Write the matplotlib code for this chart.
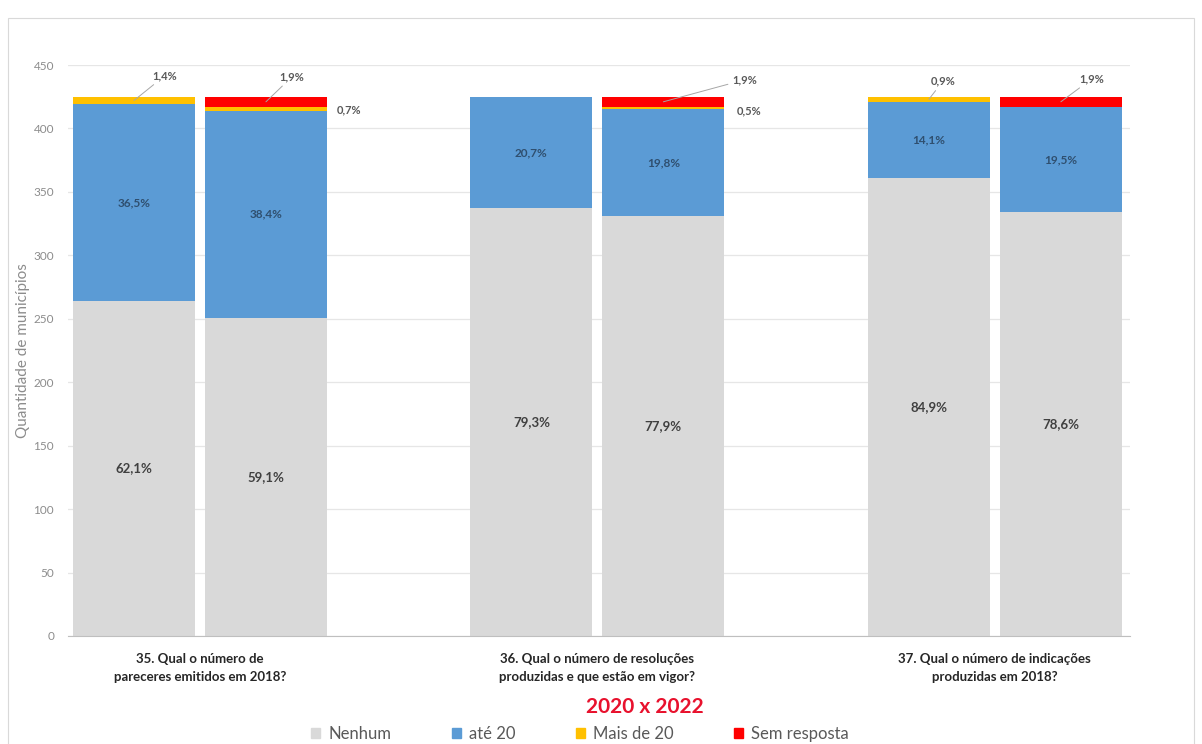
import matplotlib
matplotlib.use("Agg")
import matplotlib.pyplot as plt
from matplotlib.patches import Rectangle
import numpy as np

plt.rcParams["font.family"] = ["Lato", "DejaVu Sans"]

# --- data (quantidade de municípios, total 425) ---
groups = ["35. Qual o número de\npareceres emitidos em 2018?",
          "36. Qual o número de resoluções\nproduzidas e que estão em vigor?",
          "37. Qual o número de indicações\nproduzidas em 2018?"]
years = ["2020", "2022"]
nenhum = [264, 251, 337, 331, 361, 334]
ate20 = [155, 163, 88, 84, 60, 83]
mais20 = [6, 3, 0, 2, 4, 0]
sem_resp = [0, 8, 0, 8, 0, 8]
series_names = ["Nenhum", "até 20", "Mais de 20", "Sem resposta"]
colors = ["#D9D9D9", "#5B9BD5", "#FFC000", "#FF0000"]


def main():
    fig = plt.figure(figsize=(12.02, 7.44), dpi=100)
    ax = fig.add_axes([68 / 1202, 1 - 636 / 744, (1130 - 68) / 1202, (636 - 65) / 744])

    n_groups = len(groups)
    bw = 0.307
    off = 0.166
    xs = []
    for g in range(n_groups):
        xs += [g - off, g + off]
    xs = np.array(xs)

    data = [np.array(nenhum), np.array(ate20), np.array(mais20), np.array(sem_resp)]
    totals = sum(data)
    bottom = np.zeros(len(xs))
    bars = []
    for vals, name, c in zip(data, series_names, colors):
        ax.bar(xs, vals, bw, bottom=bottom, color=c, label=name, zorder=2)
        bars.append((vals, bottom.copy()))
        bottom = bottom + vals

    # labels inside the big segments
    for s in (0, 1):
        vals, bot = bars[s]
        for i, x in enumerate(xs):
            if vals[i] <= 0:
                continue
            pct = vals[i] / totals[i] * 100
            ax.text(x, bot[i] + vals[i] / 2, f"{pct:.1f}%".replace(".", ","),
                    ha="center", va="center", fontsize=9.5 if s == 0 else 8.5,
                    fontweight="bold", color="#404040" if s == 0 else "#2F4F6F")

    # small outside labels: (bar index, series) -> pixel offset, leader line
    small = {
        (0, 2): (31, 25, True),
        (1, 3): (26, 25, True),
        (1, 2): (83, -1, False),
        (3, 3): (81, 22, True),
        (3, 2): (86, -3, False),
        (4, 2): (14, 18, True),
        (5, 3): (31, 23, True),
    }
    for (i, s), (dx, dy, line) in small.items():
        vals, bot = bars[s]
        pct = vals[i] / totals[i] * 100
        arrow = dict(arrowstyle="-", color="#A6A6A6", lw=0.7, shrinkA=1, shrinkB=0) if line else None
        ax.annotate(f"{pct:.1f}%".replace(".", ","), xy=(xs[i], bot[i] + vals[i] / 2),
                    xytext=(dx, dy), textcoords="offset pixels",
                    ha="center", va="center", fontsize=8, fontweight="bold",
                    color="#595959", arrowprops=arrow, zorder=3)

    ax.set_ylim(0, 450)
    ax.set_yticks(np.arange(0, 451, 50))
    ax.set_xlim(-0.332, 2.34)
    ax.set_xticks(np.arange(n_groups))
    ax.set_xticklabels(groups, fontsize=9.5, fontweight="bold", color="#262626",
                       linespacing=1.6)
    ax.tick_params(axis="x", length=0, pad=12)
    ax.tick_params(axis="y", length=0, labelsize=8.5, labelcolor="#8C8C8C", pad=10)
    ax.yaxis.grid(True, color="#E6E6E6", lw=0.9, zorder=0)
    ax.set_axisbelow(True)
    for sp in ("top", "right", "left"):
        ax.spines[sp].set_visible(False)
    ax.spines["bottom"].set_color("#BFBFBF")
    ax.set_ylabel("Quantidade de municípios", fontsize=11, color="#8C8C8C")
    ax.yaxis.set_label_coords(-0.036, 0.5)

    fig.text(645 / 1202, 1 - 707 / 744, "2020 x 2022", ha="center", va="center",
             fontsize=15, fontweight="bold", color="#E8112D")

    handles = [Rectangle((0, 0), 1, 1, color=c) for c in colors]
    fig.legend(handles, series_names, loc="center", bbox_to_anchor=(580 / 1202, 1 - 734 / 744),
               ncol=4, frameon=False, fontsize=12, handlelength=0.55, handleheight=0.55,
               handletextpad=0.5, columnspacing=3.6, labelcolor="#595959")

    fig.patches.append(Rectangle((8 / 1202, -0.01), 1186 / 1202, 1 - 18 / 744 + 0.01,
                                 transform=fig.transFigure, fill=False,
                                 edgecolor="#D9D9D9", lw=0.8))

    fig.savefig("out.png", dpi=100)
    plt.close(fig)


if __name__ == "__main__":
    main()
